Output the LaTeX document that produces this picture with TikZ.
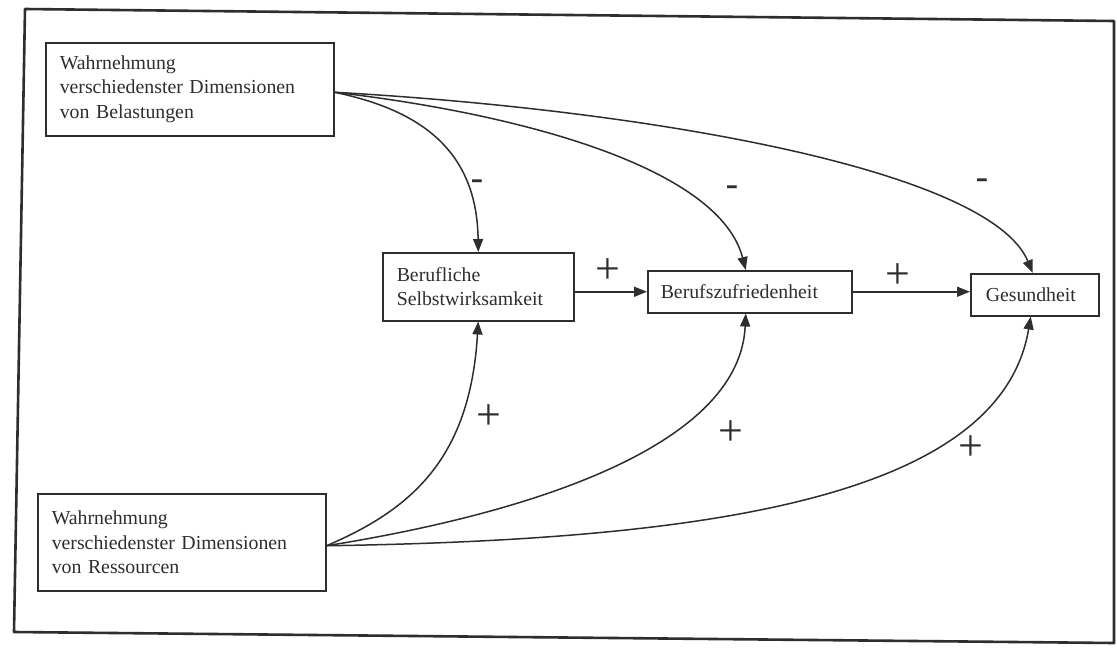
\documentclass[tikz,border=0pt]{standalone}
\usepackage{graphicx}
\usepackage{fontspec}
\setmainfont{Liberation Serif}
\newfontfamily\labsans{Liberation Sans}
\usetikzlibrary{arrows.meta}
\definecolor{ink}{HTML}{2E2E2E}
\begin{document}
\begin{tikzpicture}[x=1pt,y=-1pt,
  box/.style={draw=ink, line width=1.5pt, text=ink, inner xsep=14pt, inner ysep=0pt,
    align=left, anchor=north west, font=\fontsize{19.8}{24.5}\selectfont},
  conn/.style={draw=ink, line width=1.5pt, -{Triangle[length=13pt,width=10pt]}},
  minus/.style={text=ink, font=\labsans\bfseries\fontsize{24}{24}\selectfont, inner sep=0pt},
  plus/.style={text=ink, font=\fontsize{44}{44}\selectfont, inner sep=0pt},
  frame/.style={draw=ink, line width=2.6pt, line join=round}]
\useasboundingbox (0,0) rectangle (1117,651);
\fill[white] (0,0) rectangle (1117,651);
% outer frame
\coordinate (f1) at (25,9);
\coordinate (f2) at (1114,21);
\coordinate (f3) at (1114,643);
\coordinate (f4) at (14,632);
\draw[frame] (f1) -- (f2) -- (f3) -- (f4) -- cycle;
% boxes
\node[box, text width=260pt, minimum height=93pt] (bel) at (45,42)
  {Wahrnehmung\\verschiedenster Dimensionen\\von Belastungen};
\node[box, text width=260pt, minimum height=97pt] (res) at (37,493)
  {Wahrnehmung\\verschiedenster Dimensionen\\von Ressourcen};
\node[box, text width=163pt, minimum height=68pt] (bs) at (382,252)
  {Berufliche\\Selbstwirksamkeit};
\node[box, inner xsep=13pt, text width=178pt, minimum height=42pt] (bz) at (647,270)
  {Berufszufriedenheit};
\node[box, inner xsep=15pt, text width=98pt, minimum height=42pt] (ge) at (970,273)
  {Gesundheit};
% straight arrows
\draw[conn] (bs.east |- bz.west) -- (bz.west);
\draw[conn] (bz.east) -- (ge.west |- bz.east);
% curves from Belastungen
\draw[conn] ([yshift=-3pt]bel.east) .. controls (420,110) and (477,150) .. (bs.north);
\draw[conn] ([yshift=-3pt]bel.east) .. controls (530,115) and (720,170) .. ([xshift=-4pt]bz.north);
\draw[conn] ([yshift=-3pt]bel.east) .. controls (650,110) and (990,170) .. ([xshift=-2pt]ge.north);
% curves from Ressourcen
\draw[conn] ([yshift=-3.5pt]res.east) .. controls (410,510) and (470,460) .. (bs.south);
\draw[conn] ([yshift=-3.5pt]res.east) .. controls (550,510) and (740,440) .. ([xshift=-4pt]bz.south);
\draw[conn] ([yshift=-3.5pt]res.east) .. controls (700,540) and (1000,500) .. ([xshift=-4pt]ge.south);
% labels
\node[minus] (m1) at (477,184) {\scalebox{1.6}[1]{-}};
\node[minus] (m2) at (732,190) {\scalebox{1.6}[1]{-}};
\node[minus] (m3) at (982,183) {\scalebox{1.6}[1]{-}};
\node[plus] (p1) at (608,271) {+};
\node[plus] (p2) at (898,276) {+};
\node[plus] (p3) at (489,417) {+};
\node[plus] (p4) at (731,433) {+};
\node[plus] (p5) at (971,448) {+};
\end{tikzpicture}
\end{document}
